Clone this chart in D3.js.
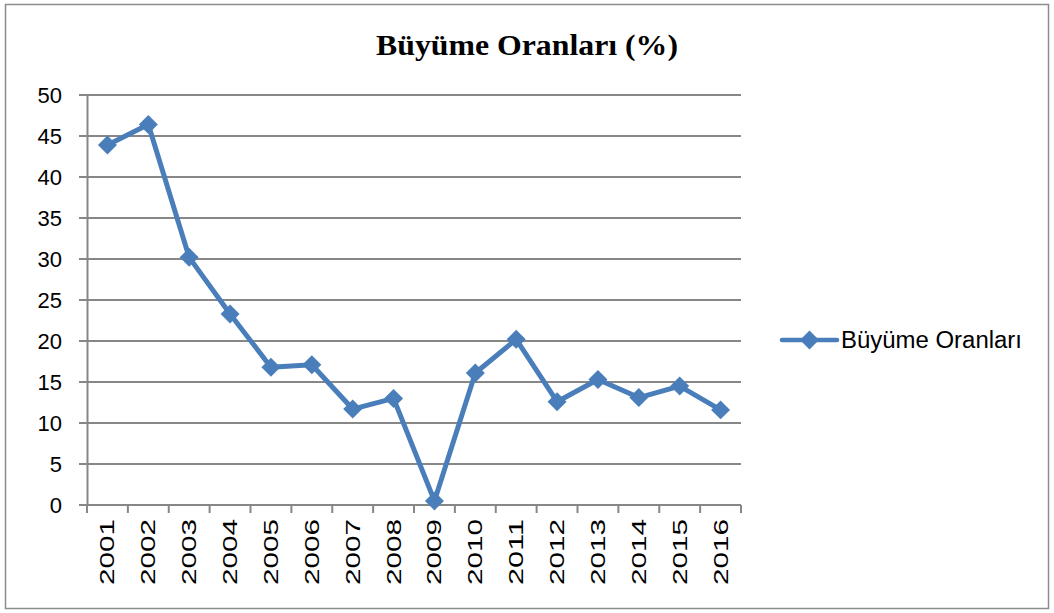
<!DOCTYPE html>
<html>
<head>
<meta charset="utf-8">
<script src="https://cdn.jsdelivr.net/npm/d3@7"></script>
<style>
  body { margin: 0; background: #fff; }
  svg { display: block; }
</style>
</head>
<body>
<div id="chart"></div>
<script>
// Büyüme Oranları line chart
const years = ["2001","2002","2003","2004","2005","2006","2007","2008",
               "2009","2010","2011","2012","2013","2014","2015","2016"];
const rates = [43.9, 46.4, 30.2, 23.3, 16.8, 17.1, 11.7, 13.0,
               0.5, 16.1, 20.2, 12.6, 15.3, 13.1, 14.5, 11.6];
const yTicks = [0, 5, 10, 15, 20, 25, 30, 35, 40, 45, 50];
const seriesName = "Büyüme Oranları";
const titleText = "Büyüme Oranları (%)";

const WIDTH = 1054, HEIGHT = 613;
const M = { left: 87, right: 313, top: 95, bottom: 108 };
const W = WIDTH - M.left - M.right;
const H = HEIGHT - M.top - M.bottom;

const BLUE = "#4a7ebb";
const GRID = "#878787";

const svg = d3.select("#chart").append("svg")
  .attr("width", WIDTH).attr("height", HEIGHT);

// outer frame
svg.append("rect")
  .attr("x", 5.5).attr("y", 4.5)
  .attr("width", 1043).attr("height", 604)
  .attr("fill", "#fff").attr("stroke", "#8c8c8c").attr("stroke-width", 1.5);

svg.append("text")
  .attr("x", 527).attr("y", 55)
  .attr("text-anchor", "middle")
  .attr("font-family", "'Liberation Serif', 'Times New Roman', serif")
  .attr("font-weight", "bold")
  .attr("font-size", 30)
  .attr("textLength", 302)
  .attr("lengthAdjust", "spacingAndGlyphs")
  .text(titleText);

const x = d3.scaleBand().domain(years).range([0, W]);
const y = d3.scaleLinear().domain([0, 50]).range([H, 0]);

const g = svg.append("g").attr("transform", `translate(${M.left},${M.top})`);

// gridlines (with the small ticks left of the axis)
g.append("g")
  .selectAll("line")
  .data(yTicks)
  .join("line")
  .attr("x1", -8).attr("x2", W)
  .attr("y1", d => y(d)).attr("y2", d => y(d))
  .attr("stroke", GRID).attr("stroke-width", 2);

// y axis
const gY = g.append("g")
  .call(d3.axisLeft(y).tickValues(yTicks).tickSize(0).tickPadding(25));
gY.select(".domain").attr("stroke", GRID).attr("stroke-width", 2);
gY.selectAll("text")
  .attr("font-family", "'Liberation Sans', Arial, sans-serif")
  .attr("font-size", 22)
  .attr("fill", "#000");

// x axis
const gX = g.append("g").attr("transform", `translate(0,${H})`);
gX.append("line")
  .attr("x1", 0).attr("x2", W).attr("y1", 0).attr("y2", 0)
  .attr("stroke", GRID).attr("stroke-width", 2);
const bounds = years.map(d => x(d)).concat([W]);
gX.selectAll("line.tick")
  .data(bounds)
  .join("line")
  .attr("class", "tick")
  .attr("x1", d => d).attr("x2", d => d)
  .attr("y1", 0).attr("y2", 8)
  .attr("stroke", GRID).attr("stroke-width", 2);
gX.selectAll("text")
  .data(years)
  .join("text")
  .attr("transform", d => `translate(${x(d) + x.bandwidth() / 2 + 7},14) rotate(-90)`)
  .attr("text-anchor", "end")
  .attr("font-family", "'Liberation Sans', Arial, sans-serif")
  .attr("font-size", 21)
  .attr("textLength", 66)
  .attr("lengthAdjust", "spacingAndGlyphs")
  .text(d => d);

// series line
const line = d3.line()
  .x((d, i) => x(years[i]) + x.bandwidth() / 2)
  .y(d => y(d));

g.append("path")
  .datum(rates)
  .attr("d", line)
  .attr("fill", "none")
  .attr("stroke", BLUE)
  .attr("stroke-width", 5)
  .attr("stroke-linejoin", "round");

const diamond = d3.symbol().type(d3.symbolSquare).size(180);
g.selectAll("path.pt")
  .data(rates)
  .join("path")
  .attr("class", "pt")
  .attr("d", diamond)
  .attr("transform", (d, i) =>
    `translate(${x(years[i]) + x.bandwidth() / 2},${y(d)}) rotate(45)`)
  .attr("fill", BLUE);

// legend
const lg = svg.append("g").attr("transform", "translate(782,340)");
lg.append("line")
  .attr("x1", 0).attr("x2", 55).attr("y1", 0).attr("y2", 0)
  .attr("stroke", BLUE).attr("stroke-width", 4.5)
  .attr("stroke-linecap", "round");
lg.append("path")
  .attr("d", diamond)
  .attr("transform", "translate(27.5,0) rotate(45)")
  .attr("fill", BLUE);
lg.append("text")
  .attr("x", 59).attr("y", 8)
  .attr("font-family", "'Liberation Sans', Arial, sans-serif")
  .attr("font-size", 23)
  .attr("textLength", 181)
  .attr("lengthAdjust", "spacingAndGlyphs")
  .text(seriesName);
</script>
</body>
</html>
